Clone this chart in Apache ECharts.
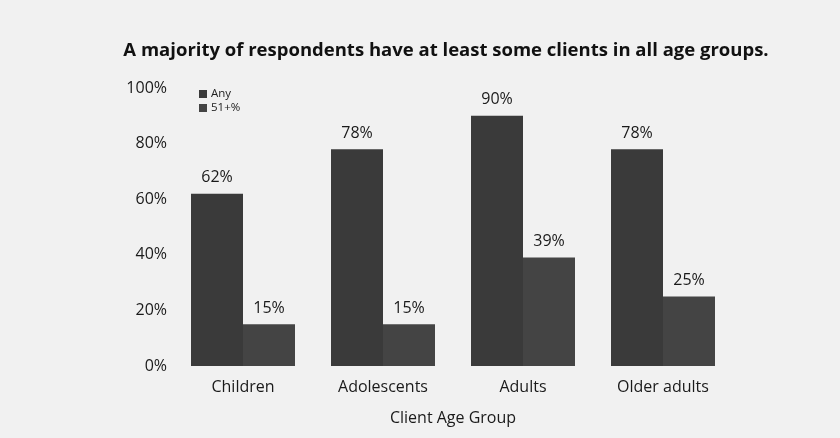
<!DOCTYPE html>
<html>
<head>
<meta charset="utf-8">
<script src="https://cdn.jsdelivr.net/npm/echarts@6/dist/echarts.min.js"></script>
<style>
  html, body { margin: 0; padding: 0; background: #f1f1f1; }
  #chart { width: 840px; height: 438px; }
</style>
</head>
<body>
<div id="chart"></div>
<script>
// Client age groups and share of respondents with clients in each
const categories = ['Children', 'Adolescents', 'Adults', 'Older adults'];
const anyClients = [62, 78, 90, 78];
const majorityClients = [15, 15, 39, 25];
const yTicks = [0, 20, 40, 60, 80, 100];

const font = '"Open Sans", "Noto Sans", sans-serif';
const chart = echarts.init(document.getElementById('chart'));

const valueLabel = {
  show: true,
  position: 'top',
  distance: 8,
  formatter: p => p.value + '%',
  color: '#1a1a1a',
  fontFamily: font,
  fontSize: 16
};

chart.setOption({
  backgroundColor: '#f1f1f1',
  animation: false,
  title: {
    text: 'A majority of respondents have at least some clients in all age groups.',
    left: 441,
    textAlign: 'center',
    top: 36,
    textStyle: { fontFamily: font, fontWeight: 'bold', fontSize: 18.5, color: '#111' }
  },
  legend: {
    orient: 'vertical',
    left: 194,
    top: 83,
    itemWidth: 8,
    itemHeight: 8,
    itemGap: 2,
    icon: 'rect',
    textStyle: { fontFamily: font, fontSize: 11.5, color: '#222', padding: [0, 0, 0, -1] },
    data: ['Any', '51+%']
  },
  grid: { left: 173, right: 107, top: 88, bottom: 72 },
  xAxis: {
    type: 'category',
    data: categories,
    name: 'Client Age Group',
    nameLocation: 'middle',
    nameGap: 44,
    nameTextStyle: { fontFamily: font, fontSize: 16, color: '#1a1a1a' },
    axisLine: { show: false },
    axisTick: { show: false },
    axisLabel: { fontFamily: font, fontSize: 16, color: '#1a1a1a', margin: 13 }
  },
  yAxis: {
    type: 'value',
    min: yTicks[0],
    max: yTicks[yTicks.length - 1],
    interval: 20,
    axisLine: { show: false },
    axisTick: { show: false },
    splitLine: { show: false },
    axisLabel: { fontFamily: font, fontSize: 16, color: '#1a1a1a', margin: 6, formatter: '{value}%' }
  },
  series: [
    {
      name: 'Any',
      type: 'bar',
      data: anyClients,
      barWidth: 52,
      barGap: '0%',
      itemStyle: { color: '#3a3a3a' },
      label: valueLabel
    },
    {
      name: '51+%',
      type: 'bar',
      data: majorityClients,
      barWidth: 52,
      itemStyle: { color: '#444444' },
      label: valueLabel
    }
  ]
});
</script>
</body>
</html>
